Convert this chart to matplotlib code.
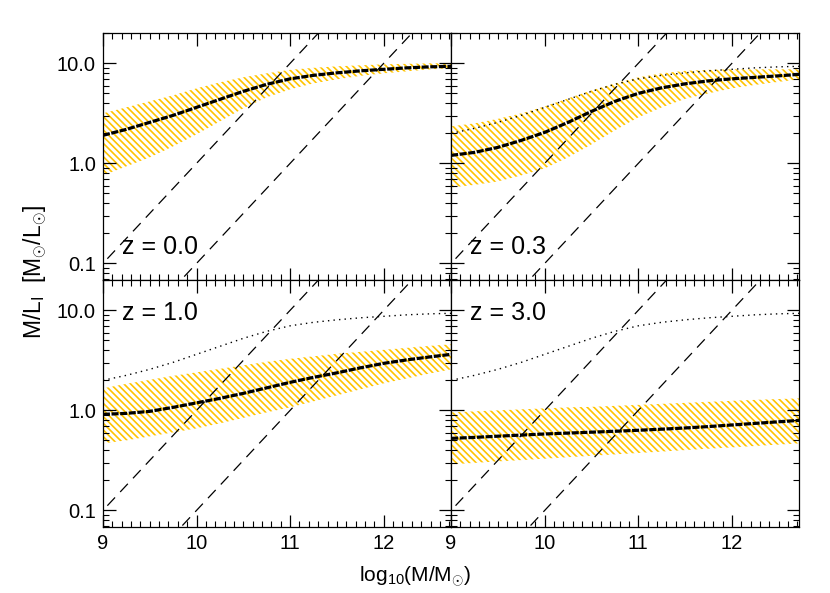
import numpy as np
import matplotlib
matplotlib.use('Agg')
import matplotlib.pyplot as plt
from matplotlib.ticker import FixedLocator, MultipleLocator, LogLocator, NullFormatter

plt.rcParams['font.family'] = ['Liberation Sans', 'DejaVu Sans']
plt.rcParams['mathtext.fontset'] = 'custom'
plt.rcParams['mathtext.rm'] = 'Liberation Sans'
plt.rcParams['mathtext.it'] = 'Liberation Sans:italic'
plt.rcParams['hatch.linewidth'] = 1.2

# ---- data (log10 of M/L) ----
logm = [9.0, 9.25, 9.5, 9.75, 10.0, 10.25, 10.5, 10.75,
        11.0, 11.25, 11.5, 11.75, 12.0, 12.25, 12.5, 12.72]
redshifts = ['0.0', '0.3', '1.0', '3.0']

# median
lml_med = [
    [0.28, 0.34, 0.41, 0.48, 0.56, 0.64, 0.72, 0.79, 0.845, 0.88, 0.905, 0.925, 0.94, 0.955, 0.965, 0.97],
    [0.08, 0.11, 0.16, 0.23, 0.31, 0.41, 0.52, 0.62, 0.70, 0.755, 0.795, 0.825, 0.845, 0.86, 0.875, 0.89],
    [-0.04, -0.03, -0.01, 0.03, 0.075, 0.12, 0.17, 0.225, 0.28, 0.33, 0.375, 0.425, 0.47, 0.505, 0.535, 0.56],
    [-0.28, -0.27, -0.258, -0.247, -0.236, -0.227, -0.218, -0.209, -0.199, -0.188, -0.176, -0.162, -0.146, -0.13, -0.114, -0.10],
]
# upper edge of band
lml_hi = [
    [0.50, 0.56, 0.62, 0.68, 0.75, 0.81, 0.86, 0.90, 0.935, 0.955, 0.97, 0.98, 0.99, 0.995, 1.0, 1.0],
    [0.37, 0.40, 0.445, 0.50, 0.57, 0.65, 0.73, 0.80, 0.86, 0.90, 0.925, 0.935, 0.94, 0.94, 0.94, 0.94],
    [0.22, 0.265, 0.305, 0.345, 0.38, 0.415, 0.45, 0.485, 0.515, 0.54, 0.565, 0.585, 0.605, 0.625, 0.645, 0.66],
    [-0.02, -0.01, 0.0, 0.01, 0.02, 0.03, 0.035, 0.045, 0.055, 0.065, 0.075, 0.085, 0.095, 0.105, 0.113, 0.12],
]
# lower edge of band
lml_lo = [
    [-0.12, -0.03, 0.06, 0.17, 0.29, 0.42, 0.55, 0.66, 0.74, 0.80, 0.84, 0.875, 0.90, 0.92, 0.94, 0.95],
    [-0.24, -0.215, -0.18, -0.12, -0.05, 0.06, 0.19, 0.33, 0.46, 0.56, 0.645, 0.70, 0.75, 0.785, 0.815, 0.84],
    [-0.33, -0.30, -0.26, -0.22, -0.18, -0.13, -0.075, -0.02, 0.03, 0.09, 0.15, 0.21, 0.27, 0.32, 0.37, 0.41],
    [-0.54, -0.525, -0.51, -0.497, -0.483, -0.468, -0.454, -0.44, -0.426, -0.412, -0.397, -0.383, -0.37, -0.356, -0.342, -0.33],
]
# z=0 median repeated as dotted reference in the other panels
lml_ref = [0.30, 0.35, 0.41, 0.48, 0.56, 0.64, 0.72, 0.79, 0.845, 0.88, 0.905, 0.925, 0.94, 0.955, 0.965, 0.97]

# luminosity limits (log10 L): M/L = 10**(logM - logL)
lum_limits = [10.0, 11.0]

gold = '#FFC400'

fig, axes = plt.subplots(2, 2, figsize=(8.3, 5.93), dpi=100, sharex=True, sharey=True)
fig.subplots_adjust(left=0.124, right=0.963, bottom=0.111, top=0.944, wspace=0, hspace=0)

xx = np.linspace(8.5, 13.5, 50)
for i, ax in enumerate(axes.flat):
    ax.set_yscale('log')
    ax.fill_between(logm, 10 ** np.array(lml_lo[i]), 10 ** np.array(lml_hi[i]),
                    facecolor='none', edgecolor=gold, hatch='\\\\\\\\\\', linewidth=0)
    ax.plot(logm, 10 ** np.array(lml_med[i]), color='black', lw=2.3, ls=(0, (2.2, 0.5)))
    if i > 0:
        ax.plot(logm, 10 ** np.array(lml_ref), color='black', lw=1, ls=(0, (1, 3)))
    for ll in lum_limits:
        ax.plot(xx, 10 ** (xx - ll), color='black', lw=0.9, ls=(0, (9, 6)))

    ax.set_xlim(9, 12.72)
    ax.set_ylim(0.068, 20)
    ax.xaxis.set_major_locator(FixedLocator([9, 10, 11, 12]))
    ax.xaxis.set_minor_locator(MultipleLocator(0.1))
    ax.yaxis.set_major_locator(FixedLocator([0.1, 1.0, 10.0]))
    ax.yaxis.set_minor_locator(LogLocator(subs=np.arange(2, 10)))
    ax.yaxis.set_minor_formatter(NullFormatter())
    ax.set_yticklabels(['0.1', '1.0', '10.0'])
    ax.tick_params(which='both', direction='in', top=True, right=True, labelsize=14.5)
    ax.tick_params(which='major', length=9, width=0.9, pad=5)
    ax.tick_params(which='minor', length=4.5, width=0.8)
    for sp in ax.spines.values():
        sp.set_linewidth(0.9)

    if i < 2:
        ax.text(9.2, 0.125, 'z = ' + redshifts[i], fontsize=18)
    else:
        ax.text(9.2, 8.0, 'z = ' + redshifts[i], fontsize=18)

fig.text(0.5, 0.027, r'log$_{10}$(M/M$_{\odot}$)', ha='center', va='center', fontsize=15)
fig.text(0.042, 0.541, r'M/L$_{\mathrm{I}}$  [M$_{\odot}$/L$_{\odot}$]', ha='center',
         va='center', rotation=90, fontsize=16.5)

plt.savefig('out.png', dpi=100)
